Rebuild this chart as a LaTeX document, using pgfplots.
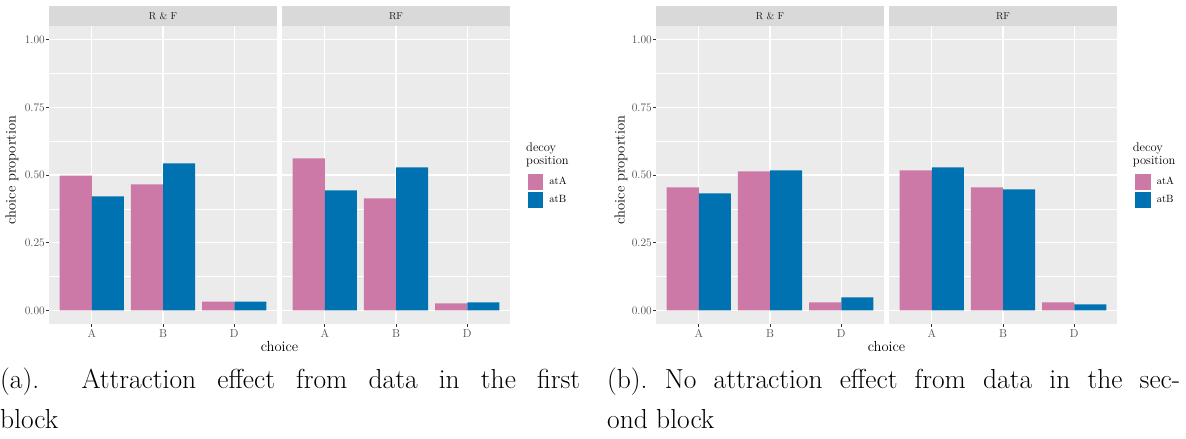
\documentclass[border=0pt]{standalone}
\usepackage{fontspec}
\usepackage{pgfplots}
\pgfplotsset{compat=1.18}
\definecolor{pinkc}{HTML}{CC79A7}
\definecolor{bluec}{HTML}{0072B2}
\definecolor{panelbg}{HTML}{EBEBEB}
\definecolor{stripbg}{HTML}{D9D9D9}
\definecolor{tickc}{HTML}{4D4D4D}
\definecolor{tickmk}{HTML}{333333}
\definecolor{stripfg}{HTML}{1A1A1A}
\pgfplotsset{
  facet/.style={
    scale only axis, width=228pt, height=298pt, anchor=south west,
    xmin=0.4, xmax=3.6, ymin=-0.05, ymax=1.05,
    axis background/.style={fill=panelbg},
    axis line style={draw=none},
    xtick={1,2,3}, xticklabels={A,B,D},
    ytick={0,0.25,0.5,0.75,1},
    yticklabels={0.00,0.25,0.50,0.75,1.00},
    minor ytick={0.125,0.375,0.625,0.875},
    xmajorgrids, ymajorgrids, yminorgrids,
    major grid style={white, line width=1.1pt},
    minor grid style={white, line width=0.55pt},
    tick align=outside, major tick length=3pt, minor tick length=0pt,
    tick pos=left,
    every tick/.style={tickmk, line width=0.6pt},
    ticklabel style={font=\fontsize{11.5}{13}\selectfont, text=tickc},
    yticklabel style={inner sep=0pt, xshift=-1pt},
    xticklabel style={inner sep=0pt, yshift=-2pt},
    /pgf/number format/assume math mode=true,
    ybar, bar width=0.45,
    clip=false,
  },
  rightfacet/.style={
    yticklabels={}, ytick style={draw=none},
    legend style={draw=none, fill=none, inner sep=0pt, row sep=0.6pt,
      font=\fontsize{10.5}{12}\selectfont, nodes={inner sep=0pt},
      /tikz/every odd column/.append style={column sep=5.5pt}},
    legend cell align=left,
    legend image code/.code={\path[fill,draw=white,line width=0.5pt] (0pt,-8.3pt) rectangle (16.6pt,8.3pt);},
  },
  sA/.style={fill=pinkc, draw=none, bar shift=-0.225},
  sB/.style={fill=bluec, draw=none, bar shift=0.225},
}
\newcommand{\strip}[1]{%
  \fill[stripbg] (rel axis cs:0,1) rectangle ([yshift=20pt]rel axis cs:1,1);
  \node[font=\fontsize{10}{12}\selectfont, text=stripfg] at ([yshift=10pt]rel axis cs:0.5,1) {#1};}
\begin{document}
\frenchspacing
\begin{tikzpicture}
\path[use as bounding box] (0,0) rectangle (1186pt,439pt);
% ---------- panel (a) ----------
\begin{axis}[facet, at={(49pt,115pt)}]
\strip{R \& F}
\addplot[sA] coordinates {(1,0.498) (2,0.465) (3,0.033)};
\addplot[sB] coordinates {(1,0.421) (2,0.543) (3,0.033)};
\end{axis}
\begin{axis}[facet, rightfacet, at={(282pt,115pt)},
  legend style={at={(1.0732,0.5067)}, anchor=north west}]
\strip{RF}
\addplot[sA] coordinates {(1,0.561) (2,0.414) (3,0.026)};
\addlegendentry{atA}
\addplot[sB] coordinates {(1,0.443) (2,0.528) (3,0.030)};
\addlegendentry{atB}
\end{axis}
\node[rotate=90, font=\fontsize{14.5}{16}\selectfont] at (12pt,269pt) {choice proportion};
\node[font=\fontsize{14.5}{16}\selectfont] at (279.5pt,92pt) {choice};
\node[anchor=north west, align=left, inner sep=0pt, font=\fontsize{12.5}{12.5}\selectfont] at (526pt,296pt) {decoy\\position};
% ---------- panel (b) ----------
\begin{axis}[facet, at={(656pt,115pt)}]
\strip{R \& F}
\addplot[sA] coordinates {(1,0.454) (2,0.513) (3,0.030)};
\addplot[sB] coordinates {(1,0.432) (2,0.517) (3,0.048)};
\end{axis}
\begin{axis}[facet, rightfacet, at={(889pt,115pt)},
  legend style={at={(1.0746,0.5067)}, anchor=north west}]
\strip{RF}
\addplot[sA] coordinates {(1,0.517) (2,0.454) (3,0.030)};
\addlegendentry{atA}
\addplot[sB] coordinates {(1,0.528) (2,0.447) (3,0.022)};
\addlegendentry{atB}
\end{axis}
\node[rotate=90, font=\fontsize{14.5}{16}\selectfont] at (621pt,269pt) {choice proportion};
\node[font=\fontsize{14.5}{16}\selectfont] at (886.5pt,92pt) {choice};
\node[anchor=north west, align=left, inner sep=0pt, font=\fontsize{12.5}{12.5}\selectfont] at (1132.7pt,296pt) {decoy\\position};
% ---------- captions ----------
\begin{scope}[every node/.style={anchor=base west, inner sep=0pt, font=\fontsize{27.5}{32}\selectfont}]
\node at (0pt,50pt) {\makebox[580pt][s]{(a).\ \ Attraction effect from data in the first}};
\node at (0pt,10pt) {block};
\node at (607pt,50pt) {\makebox[573pt][s]{(b). No attraction effect from data in the sec-}};
\node at (607pt,10pt) {ond block};
\end{scope}
\end{tikzpicture}
\end{document}
